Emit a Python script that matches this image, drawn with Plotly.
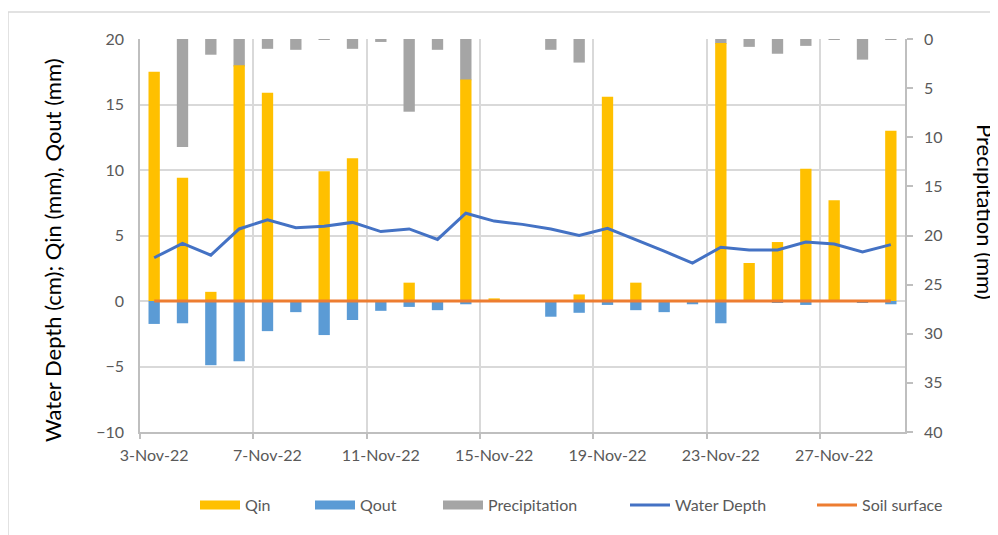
import plotly.graph_objects as go

# ---------------- data ----------------
dates = ["2022-11-03", "2022-11-04", "2022-11-05", "2022-11-06", "2022-11-07",
         "2022-11-08", "2022-11-09", "2022-11-10", "2022-11-11", "2022-11-12",
         "2022-11-13", "2022-11-14", "2022-11-15", "2022-11-16", "2022-11-17",
         "2022-11-18", "2022-11-19", "2022-11-20", "2022-11-21", "2022-11-22",
         "2022-11-23", "2022-11-24", "2022-11-25", "2022-11-26", "2022-11-27",
         "2022-11-28", "2022-11-29"]
qin = [17.5, 9.4, 0.7, 18.0, 15.9, 0, 9.9, 10.9, 0, 1.4, 0, 16.9, 0.2, 0,
       0, 0.5, 15.6, 1.4, 0, 0, 19.7, 2.9, 4.5, 10.1, 7.7, 0, 13.0]
qout = [-1.75, -1.7, -4.9, -4.6, -2.3, -0.85, -2.6, -1.45, -0.75, -0.45,
        -0.7, -0.25, 0, 0, -1.2, -0.9, -0.3, -0.7, -0.85, -0.25, -1.7, 0,
        -0.15, -0.3, 0, -0.15, -0.25]
precipitation = [0, 11.0, 1.6, 2.8, 1.0, 1.1, 0.1, 1.0, 0.3, 7.4, 1.1, 4.2,
                 0, 0, 1.1, 2.4, 0, 0, 0, 0, 0.5, 0.8, 1.5, 0.7, 0.1, 2.1, 0.1]
water_depth = [3.3, 4.4, 3.5, 5.5, 6.2, 5.6, 5.7, 6.0, 5.3, 5.5, 4.7, 6.7,
               6.1, 5.85, 5.5, 5.0, 5.55, 4.7, 3.8, 2.9, 4.1, 3.9, 3.9, 4.5,
               4.35, 3.75, 4.3]
soil_surface = [0] * len(dates)

tick_dates = ["2022-11-03", "2022-11-07", "2022-11-11", "2022-11-15",
              "2022-11-19", "2022-11-23", "2022-11-27"]
tick_labels = ["3-Nov-22", "7-Nov-22", "11-Nov-22", "15-Nov-22",
               "19-Nov-22", "23-Nov-22", "27-Nov-22"]
grid_dates = ["2022-11-02 12:00", "2022-11-06 12:00", "2022-11-10 12:00",
              "2022-11-14 12:00", "2022-11-18 12:00", "2022-11-22 12:00",
              "2022-11-26 12:00"]
x_range = ["2022-11-02 12:00", "2022-11-29 12:00"]

# ---------------- style ----------------
FONT = "Lato"
TICK_COLOR = "#595959"
GRID = "#D9D9D9"
AXIS = "#BFBFBF"
C_QIN, C_QOUT, C_P = "#FFC000", "#5B9BD5", "#A5A5A5"
C_WD, C_SS = "#4472C4", "#ED7D31"
BAR_W = 0.4 * 86400000

# page body adds an 8px offset; figure sized so it ends at the window edge
OFF = 8
W, H = 998 - OFF, 535 - OFF
PLOT_L, PLOT_R, PLOT_T, PLOT_B = 140, 905, 39, 432   # screen pixels
L, R, T, B = PLOT_L - OFF, 998 - PLOT_R, PLOT_T - OFF, 535 - PLOT_B
PW, PH = W - L - R, H - T - B


def px_x(p):
    return (p - PLOT_L) / PW


def px_y(p):
    return (PLOT_B - p) / PH


fig = go.Figure()
fig.add_trace(go.Bar(x=dates, y=precipitation, name="Precipitation",
                     marker=dict(color=C_P, line=dict(width=0)),
                     width=BAR_W, yaxis="y", showlegend=False))
fig.add_trace(go.Bar(x=dates, y=qin, name="Qin",
                     marker=dict(color=C_QIN, line=dict(width=0)),
                     width=BAR_W, yaxis="y2", showlegend=False))
fig.add_trace(go.Bar(x=dates, y=qout, name="Qout",
                     marker=dict(color=C_QOUT, line=dict(width=0)),
                     width=BAR_W, yaxis="y2", showlegend=False))
fig.add_trace(go.Scatter(x=dates, y=water_depth, name="Water Depth",
                         mode="lines", line=dict(color=C_WD, width=3),
                         yaxis="y2", showlegend=False))
fig.add_trace(go.Scatter(x=dates, y=soil_surface, name="Soil surface",
                         mode="lines", line=dict(color=C_SS, width=3),
                         yaxis="y2", showlegend=False))

# legend entries (one legend each so spacing can match)
legend_items = [("Qin", C_QIN, 9, 200), ("Qout", C_QOUT, 9, 315),
                ("Precipitation", C_P, 9, 443), ("Water Depth", C_WD, 3, 630),
                ("Soil surface", C_SS, 3, 817)]
legend_layout = {}
for i, (nm, col, lw, xp) in enumerate(legend_items):
    key = "legend" if i == 0 else f"legend{i + 1}"
    fig.add_trace(go.Scatter(x=[None], y=[None], name=nm, mode="lines",
                             line=dict(color=col, width=lw), yaxis="y2",
                             legend=key, showlegend=True))
    legend_layout[key] = dict(
        orientation="h", x=px_x(xp - 5), xanchor="left",
        y=px_y(505), yanchor="middle", bgcolor="rgba(0,0,0,0)",
        itemwidth=40, font=dict(family=FONT, size=16, color=TICK_COLOR))

fig.update_layout(
    width=W, height=H, margin=dict(l=L, r=R, t=T, b=B, autoexpand=False),
    paper_bgcolor="white", plot_bgcolor="white", barmode="overlay",
    font=dict(family=FONT, size=16, color=TICK_COLOR),
    xaxis=dict(type="date", range=x_range, tickmode="array",
               tickvals=tick_dates, ticktext=tick_labels, ticks="",
               showgrid=False, showline=True, linecolor=AXIS, linewidth=1.5,
               zeroline=False, ticklabelstandoff=8,
               tickfont=dict(family=FONT, size=16, color=TICK_COLOR),
               minor=dict(tickmode="array", tickvals=grid_dates,
                          showgrid=True, gridcolor=GRID, gridwidth=1.5,
                          ticks="outside", ticklen=5, tickcolor=AXIS,
                          tickwidth=1.5)),
    yaxis=dict(side="right", range=[40, 0], tickmode="linear", tick0=0,
               dtick=5, showgrid=False, zeroline=False, showline=True,
               linecolor=AXIS, linewidth=1.5, ticks="outside", ticklen=6,
               tickcolor=AXIS, tickwidth=1.5, ticklabelstandoff=8,
               tickfont=dict(family=FONT, size=16, color=TICK_COLOR)),
    yaxis2=dict(overlaying="y", side="left", range=[-10, 20],
                tickmode="linear", tick0=0, dtick=5, showgrid=True,
                gridcolor=GRID, gridwidth=1.5, zeroline=False, showline=True,
                linecolor=AXIS, linewidth=1.5, ticks="",
                ticklabelstandoff=11,
                tickfont=dict(family=FONT, size=16, color=TICK_COLOR)),
    annotations=[
        dict(text="Water Depth (cm); Qin (mm), Qout (mm)", xref="paper",
             yref="paper", x=px_x(52), y=px_y(250), textangle=-90,
             showarrow=False, xanchor="center", yanchor="middle",
             font=dict(family=FONT, size=22, color="#000000")),
        dict(text="Precipitation (mm)", xref="paper", yref="paper",
             x=px_x(986), y=px_y(212), textangle=90, showarrow=False,
             xanchor="center", yanchor="middle",
             font=dict(family=FONT, size=22, color="#000000")),
    ],
    shapes=[dict(type="rect", xref="paper", yref="paper", layer="below",
                 x0=px_x(8), x1=px_x(1010), y0=px_y(545), y1=px_y(12),
                 line=dict(color=GRID, width=1.5), fillcolor="rgba(0,0,0,0)")],
    **legend_layout,
)

fig.write_html("out.html")
